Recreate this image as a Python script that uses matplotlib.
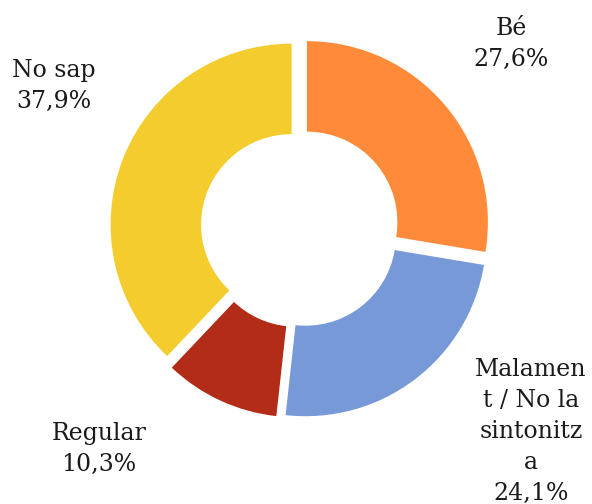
import matplotlib
matplotlib.use("Agg")
import matplotlib.pyplot as plt

categories = ["Bé", "Malament / No la sintonitza", "Regular", "No sap"]
values = [27.6, 24.1, 10.3, 37.9]
# how the label text wraps in the original
label_text = ["Bé", "Malamen\nt / No la\nsintonitz\na", "Regular", "No sap"]
colors = ["#FF8A3A", "#7799D8", "#B22C18", "#F4CC2E"]

W, H = 592, 504
cx, cy, r = 300, 228, 181  # donut centre / radius in pixels (from top-left)

fig = plt.figure(figsize=(W / 100, H / 100), dpi=100)
ax = fig.add_axes([0, 0, 1, 1])

ax.pie(values, colors=colors, startangle=90, counterclock=False,
       explode=[0.05] * len(values), radius=1,
       wedgeprops=dict(width=0.5, edgecolor="none"))

ax.set_xlim(-cx / r, (W - cx) / r)
ax.set_ylim(-(H - cy) / r, cy / r)
ax.set_aspect("auto")
ax.axis("off")

# label block: centre x and top y, pixels
label_pos = [(511, 17), (531, 358), (99, 422), (54, 59)]
for txt, v, (px, py) in zip(label_text, values, label_pos):
    s = "%s\n%s%%" % (txt, ("%.1f" % v).replace(".", ","))
    fig.text(px / W, 1 - py / H, s, ha="center", va="top",
             fontsize=17, family="DejaVu Serif", linespacing=1.45,
             color="#1a1a1a")

plt.savefig("out.png", dpi=100)
